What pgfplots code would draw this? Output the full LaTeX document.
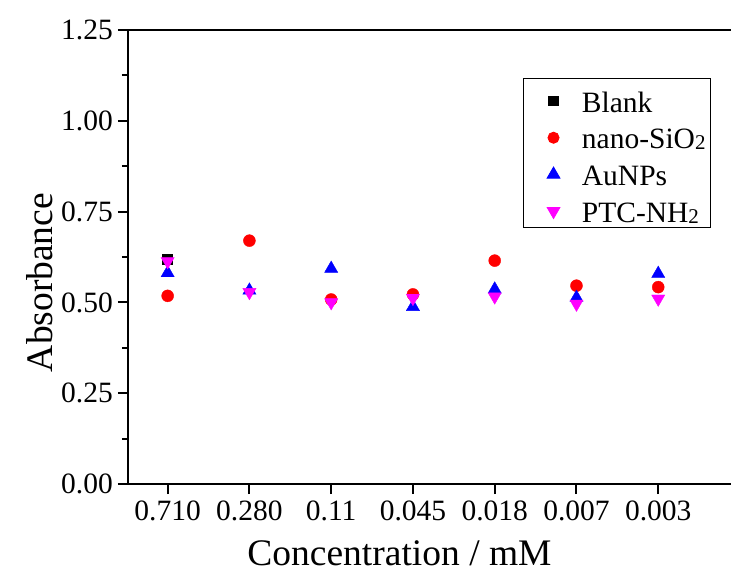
\documentclass[border=0pt]{standalone}
\usepackage{fontspec}
\setmainfont{Liberation Serif}
\usepackage{pgfplots}
\pgfplotsset{compat=1.18}
\definecolor{pmag}{RGB}{255,0,255}
\definecolor{pred}{RGB}{255,0,0}
\definecolor{pblue}{RGB}{0,0,255}
\newcommand\tickfont{\fontsize{29.5bp}{35bp}\selectfont}
\newcommand\labfont{\fontsize{37.5bp}{44bp}\selectfont}
\newcommand\sub[1]{\raisebox{-1bp}{\fontsize{21bp}{21bp}\selectfont #1}}
\begin{document}
\begin{tikzpicture}
\path[use as bounding box] (-128bp,-88bp) rectangle (603bp,484bp);
\begin{axis}[
  scale only axis, width=603bp, height=454bp,
  xmin=-0.485, xmax=6.89, ymin=0, ymax=1.25,
  axis x line*=box, axis y line*=left,
  axis line style={-, line width=2.4bp, black},
  xtick pos=left, ytick pos=left,
  tick align=outside,
  major tick length=10bp, minor tick length=6bp,
  every tick/.style={black, line width=2bp},
  xtick={0,1,2,3,4,5,6},
  xticklabels={0.710,0.280,0.11,0.045,0.018,0.007,0.003},
  ytick={0,0.25,0.5,0.75,1,1.25},
  yticklabels={0.00,0.25,0.50,0.75,1.00,1.25},
  minor ytick={0.125,0.375,0.625,0.875,1.125},
  ticklabel style={font=\tickfont},
  xticklabel style={inner sep=7bp},
  yticklabel style={inner sep=5bp},
  xlabel={Concentration / mM},
  ylabel={Absorbance},
  xlabel style={font=\labfont, at={(axis description cs:0.4502,0)}, anchor=base, yshift=-81bp},
  ylabel style={font=\labfont, at={(axis description cs:-0.1473,0.4438)}, anchor=center, rotate=0},
  legend cell align=left,
  legend style={at={(axis description cs:0.6546,0.894)}, anchor=north west,
    draw=black, line width=0.8bp, font=\tickfont,
    inner xsep=5bp, inner ysep=3bp, row sep=3.7bp, column sep=13bp,
    nodes={inner sep=0pt, text height=30.7bp, text depth=2.3bp}},
  legend image code/.code={\path (0bp,0bp) (40bp,0bp);
    \draw[mark repeat=2,mark phase=2,#1] plot coordinates {(10bp,-3bp)(25bp,-3bp)(40bp,-3bp)};},
]
\addplot[only marks, mark=square*, black, mark size=5bp, forget plot] coordinates {(0,0.620)};
\addplot[only marks, mark=*, pred, mark size=6bp, forget plot] coordinates {
(0,0.518) (1,0.670) (2,0.508) (3,0.522) (4,0.615) (5,0.546) (6,0.542)};
\addplot[only marks, mark=triangle*, pblue, mark size=7.6bp, forget plot] coordinates {
(0,0.581) (1,0.533) (2,0.593) (3,0.488) (4,0.536) (5,0.513) (6,0.579)};
\addplot[only marks, mark=triangle*, pmag, mark size=7.6bp, mark options={rotate=180}, forget plot] coordinates {
(0,0.613) (1,0.528) (2,0.500) (3,0.512) (4,0.516) (5,0.496) (6,0.510)};
\addlegendimage{only marks, mark=square*, black, mark size=4.8bp}
\addlegendentry{Blank}
\addlegendimage{only marks, mark=*, pred, mark size=5.6bp}
\addlegendentry{nano-SiO\sub{2}}
\addlegendimage{only marks, mark=triangle*, pblue, mark size=7.4bp}
\addlegendentry{AuNPs}
\addlegendimage{only marks, mark=triangle*, pmag, mark size=7.4bp, mark options={rotate=180}}
\addlegendentry{PTC-NH\sub{2}}
\end{axis}
\end{tikzpicture}
\end{document}
